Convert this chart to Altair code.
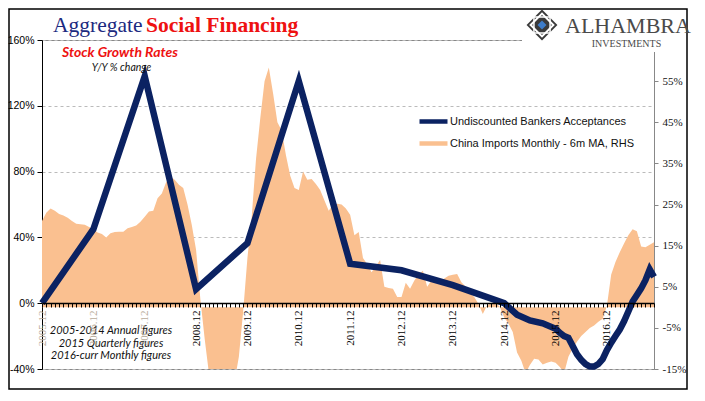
import altair as alt
import pandas as pd

# ---------------- data ----------------
months = ["2005.12"] + [f"{y}.{m:02d}" for y in range(2006, 2018) for m in range(1, 13)
                        if not (y == 2017 and m == 12)]

china_imports_6m = [
    21, 23, 24, 23.5, 22.7, 22.3, 21.8, 21, 20.3, 20.2, 20.1, 19.5,
    19, 18.2, 17.8, 17, 18, 18.3, 18.4, 18.4, 19.2, 19.5, 19.9, 20.8,
    22, 23.3, 23.5, 26.5, 27.7, 30.4, 31.8, 31, 29.8, 29, 25, 20,
    14, 2, -7.6, -16, -20, -21, -21, -21, -20, -18, -12, -1,
    12, 22, 36, 46, 55, 58.3, 52, 45, 43, 37, 32, 29,
    28.5, 33, 31, 31.2, 30, 28.5, 26, 23.5, 25, 25.2, 25, 24,
    22.5, 17.5, 18.3, 12, 10.5, 8.5, 10, 11.5, 5, 4.7, 4.5, 2.5,
    2.5, 6, 4.5, 6.5, 8, 8.9, 5, 6.5, 6.3, 6.1, 7, 7.7,
    7.9, 8.1, 6.1, 5, 3.5, 2.5, 0.8, -1.6, 0.5, 1, 1.3, 0,
    -2.5, -4, -6, -11, -13, -16, -14, -12.5, -12.7, -13.9, -13.5, -13.2,
    -13.5, -14.5, -16, -12, -10, -8.4, -7, -6, -5, -4.4, -3.5, -2.8,
    0.4, 8, 11, 13.4, 15.5, 17.5, 19, 18.5, 14.8, 14.6, 15.2, 15.8,
]

bankers_months = ["2005.12", "2006.12", "2007.12", "2008.12", "2009.12", "2010.12",
                  "2011.12", "2012.12", "2013.12", "2014.12",
                  "2015.03", "2015.06", "2015.09", "2015.12",
                  "2016.01", "2016.02", "2016.03", "2016.04", "2016.05", "2016.06",
                  "2016.07", "2016.08", "2016.09", "2016.10", "2016.11", "2016.12",
                  "2017.01", "2017.02", "2017.03", "2017.04", "2017.05", "2017.06",
                  "2017.07", "2017.08", "2017.09", "2017.10", "2017.11"]
bankers_values = [0, 45, 138, 8.5, 36.5, 135,
                  24, 20, 11, 0,
                  -7, -10.5, -12.2, -15.5,
                  -18, -20, -21, -26, -31, -34.5,
                  -37, -38.5, -38.5, -37, -34, -28.5,
                  -24, -20, -16, -11, -5, 1,
                  5, 9, 14, 20.5, 16]

series_names = ["Undiscounted Bankers Acceptances", "China Imports Monthly - 6m MA, RHS"]
left_ticks = [-40, 0, 40, 80, 120, 160]
right_ticks = [-15, -5, 5, 15, 25, 35, 45, 55]

NAVY = "#0b2262"
ORANGE = "#FAC090"

df_orange = pd.DataFrame({"month": months, "value": china_imports_6m})
df_blue = pd.DataFrame({"month": bankers_months, "value": bankers_values,
                        "series": series_names[0]})
dummy = pd.DataFrame({"d": [0]})

x_axis = alt.Axis(
    orient="bottom", offset=-66, title=None, grid=False, zindex=1,
    labelExpr="indexof(datum.label, '.12') > 0 ? datum.label : ''",
    labelAngle=270, labelFont="Liberation Serif", labelFontSize=11,
    labelColor={"condition": {"test": "datum.value < '2008'", "value": "#b8ab9b"}, "value": "#000"},
    labelOverlap=False, labelPadding=3, tickSize=4, tickColor="#000",
    domainColor="#000", domainWidth=1.5,
)
x_enc = alt.X("month:O", scale=alt.Scale(type="point", domain=months, padding=0), axis=x_axis)

area = alt.Chart(df_orange).mark_area(color=ORANGE, clip=True, interpolate="linear").encode(
    x=x_enc,
    y=alt.Y("value:Q", scale=alt.Scale(domain=[-15, 65], nice=False, zero=False),
            axis=alt.Axis(orient="right", values=right_ticks, labelExpr="datum.value + '%'",
                          grid=False, title=None, tickSize=4, tickColor="#888",
                          domainColor="#888", labelFont="Liberation Serif", labelFontSize=11,
                          labelColor="#111", labelPadding=4)),
)

line = alt.Chart(df_blue).mark_line(strokeWidth=6.5, interpolate="linear").encode(
    x=x_enc,
    y=alt.Y("value:Q", scale=alt.Scale(domain=[-40, 160], nice=False),
            axis=alt.Axis(orient="left", values=left_ticks, labelExpr="datum.value + '%'",
                          grid=True, gridDash=[3, 3], gridColor="#bbbbbb", title=None,
                          tickSize=5, tickColor="#000", domainColor="#000",
                          labelFont="Liberation Sans", labelFontSize=10.5,
                          labelColor="#000", labelPadding=3)),
    color=alt.Color("series:N",
                    scale=alt.Scale(domain=series_names, range=[NAVY, ORANGE]),
                    legend=alt.Legend(title=None, orient="none", legendX=379, legendY=69,
                                      symbolType="M-1.4,0H1.4", symbolStrokeWidth=4.5,
                                      symbolSize=400, labelFont="Liberation Sans",
                                      labelFontSize=11, labelColor="#111", labelLimit=0,
                                      rowPadding=-5, labelOffset=4)),
)

def txt(text, x, y, **kw):
    return alt.Chart(dummy).mark_text(text=text, baseline="alphabetic", **kw).encode(
        x=alt.value(x), y=alt.value(y))

frame = alt.Chart(dummy).mark_rect(fillOpacity=0, stroke="#000", strokeWidth=1.5).encode(
    x=alt.value(-33), x2=alt.value(645), y=alt.value(-31), y2=alt.value(349))
logo_bg = alt.Chart(dummy).mark_rect(fill="white").encode(
    x=alt.value(480), x2=alt.value(616), y=alt.value(-29), y2=alt.value(12))
logo_d1 = alt.Chart(dummy).mark_point(shape="diamond", filled=True, color="#3a3a3a", opacity=1).encode(
    x=alt.value(500), y=alt.value(-15), size=alt.value(950))
logo_d2 = alt.Chart(dummy).mark_point(shape="diamond", filled=False, color="#ffffff", strokeWidth=2, opacity=1).encode(
    x=alt.value(500), y=alt.value(-15), size=alt.value(520))
logo_d3 = alt.Chart(dummy).mark_point(shape="square", filled=False, color="#ffffff", strokeWidth=1.5, opacity=1).encode(
    x=alt.value(500), y=alt.value(-15), size=alt.value(260))
logo_d4 = alt.Chart(dummy).mark_point(shape="diamond", filled=True, color="#3d7cc9", opacity=1).encode(
    x=alt.value(500), y=alt.value(-15), size=alt.value(80))

texts = [
    txt("Aggregate", 11, -8, font="Liberation Serif", fontSize=21.5, color="#1c2a80", align="left"),
    txt("Social Financing", 104, -8, font="Liberation Serif", fontSize=21.5, fontWeight="bold",
        color="#ee1111", align="left"),
    txt("Stock Growth Rates", 20, 17, font="Lato", fontSize=14, fontWeight="bold",
        fontStyle="italic", color="#ee1111", align="left"),
    txt("Y/Y % change", 79.5, 31, font="Lato", fontSize=10.5, fontStyle="italic",
        color="#111", align="center"),
    txt("2005-2014 Annual figures", 69, 294, font="Lato", fontSize=11, fontStyle="italic",
        color="#111", align="center"),
    txt("2015 Quarterly figures", 69, 306.5, font="Lato", fontSize=11, fontStyle="italic",
        color="#111", align="center"),
    txt("2016-curr Monthly figures", 69, 319, font="Lato", fontSize=11, fontStyle="italic",
        color="#111", align="center"),
    txt("ALHAMBRA", 523, -7, font="Liberation Serif", fontSize=22, color="#4a4a4a", align="left"),
    txt("INVESTMENTS", 584.5, 6.5, font="Liberation Serif", fontSize=10, color="#4a4a4a",
        align="center"),
]

chart = alt.layer(
    area, line, frame, logo_bg, logo_d1, logo_d2, logo_d3, logo_d4, *texts
).resolve_scale(y="independent").properties(
    width=612, height=329,
    padding={"left": 34, "top": 32, "right": 42, "bottom": 22},
    autosize=alt.AutoSizeParams(type="none"),
    background="white",
).configure_view(stroke="#888", strokeWidth=1)

chart.save("out.html", embed_options={"renderer": "svg", "actions": False})
